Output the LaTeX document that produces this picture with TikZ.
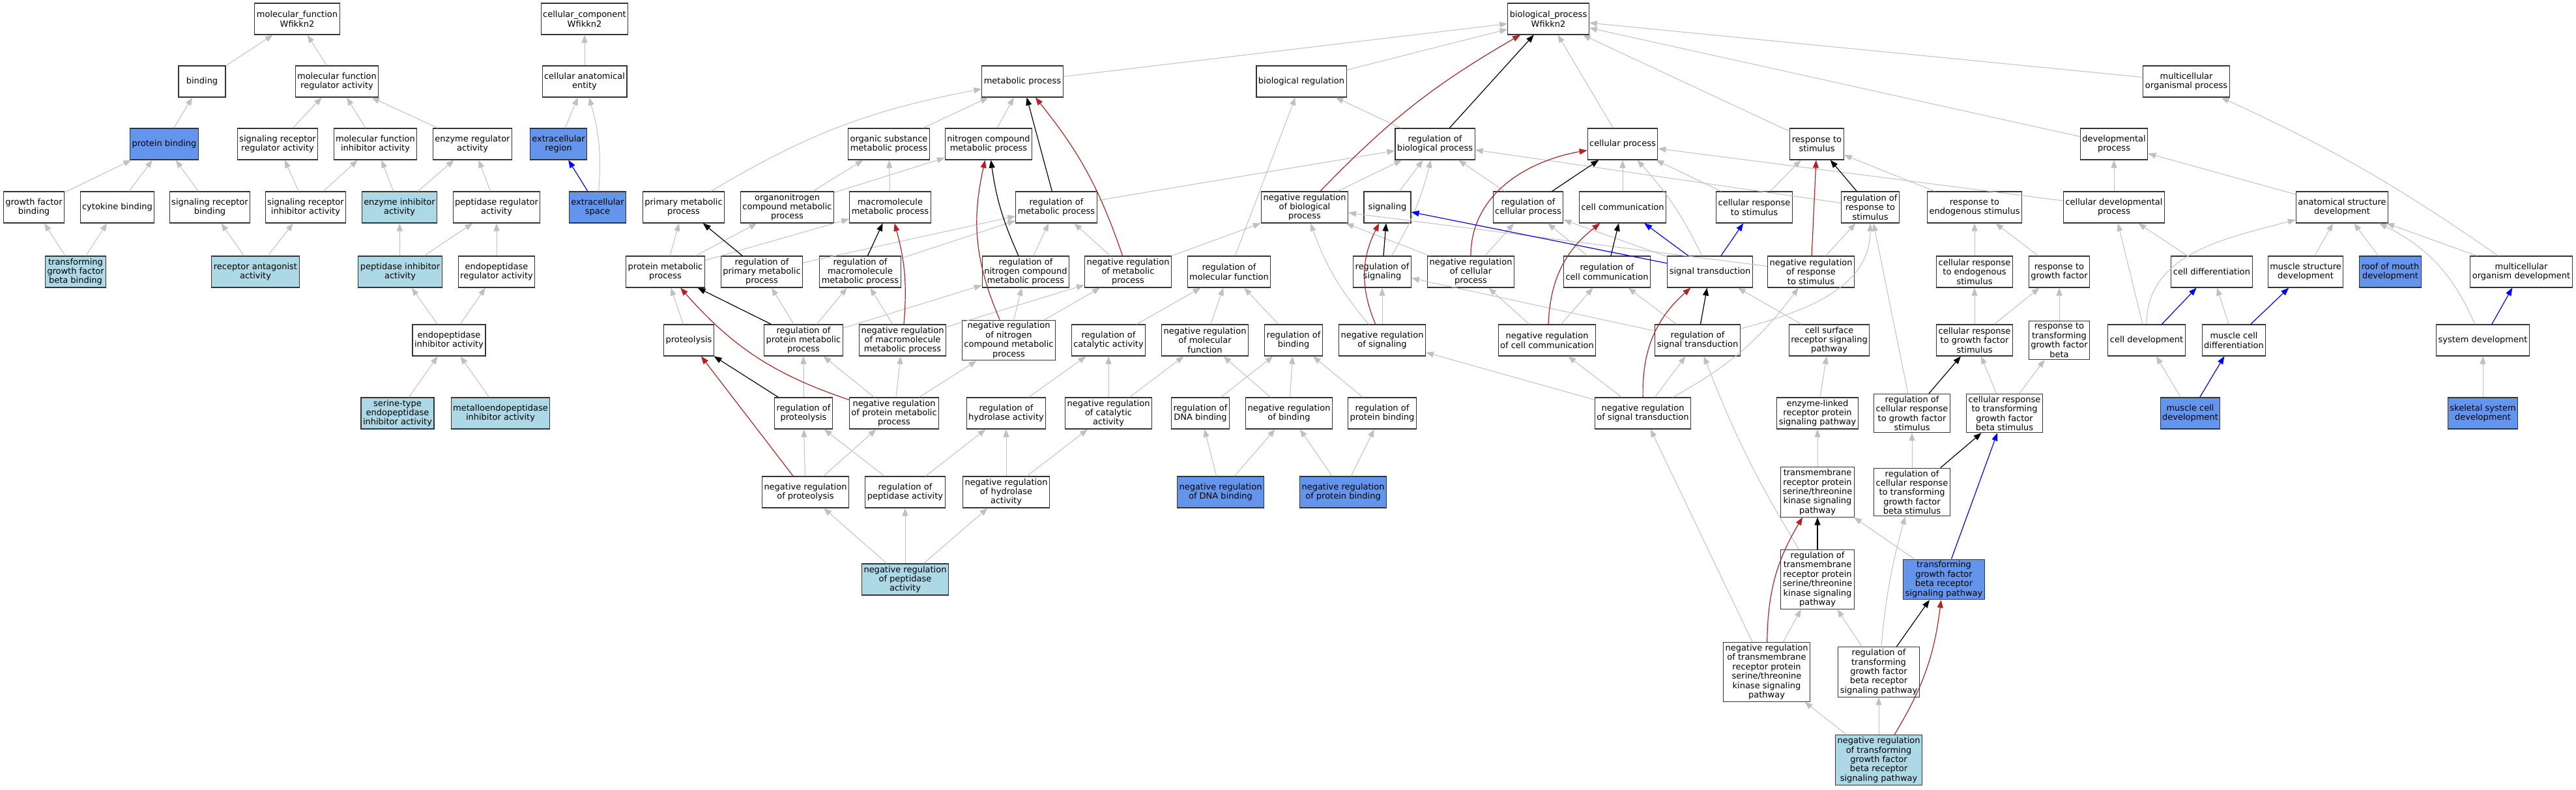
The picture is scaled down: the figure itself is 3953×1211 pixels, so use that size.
\documentclass[tikz,border=0pt]{standalone}
\usepackage{fontspec}
\setmainfont{DejaVu Sans}
\usetikzlibrary{arrows.meta}
\definecolor{edgegray}{RGB}{192,192,192}
\definecolor{hitblue}{RGB}{100,149,237}
\definecolor{seedblue}{RGB}{173,216,230}
\definecolor{negred}{RGB}{178,34,34}
\definecolor{boxline}{RGB}{51,51,51}
\begin{document}
\begin{tikzpicture}[x=1pt, y=1pt,
  every node/.style={rectangle, draw=boxline, line width=1.1pt, fill=white, align=center,
    font=\fontsize{13}{14.4}\selectfont, inner xsep=3pt, inner ysep=3pt,
    minimum width=72pt, minimum height=48pt},
  hit/.style={fill=hitblue},
  seed/.style={fill=seedblue},
  isa/.style={draw=edgegray, line width=1pt, -{Triangle[length=12pt,width=9pt]}},
  regs/.style={draw=black, line width=1.2pt, -{Triangle[length=12pt,width=9pt]}},
  negregs/.style={draw=negred, line width=1.2pt, -{Triangle[length=12pt,width=9pt]}},
  partof/.style={draw=blue, line width=1.2pt, -{Triangle[length=12pt,width=9pt]}}]
	\useasboundingbox (0,0) rectangle (3953,1211);
	
	% molecular function
	\node (mf) at (456,1182) {molecular\_function\\Wfikkn2};
	\node (bind) at (310,1086) {binding};
	\node (mfreg) at (517,1086) {molecular function\\regulator activity};
	\node (protbind) [hit] at (252,990) {protein binding};
	\node (srreg) at (426,990) {signaling receptor\\regulator activity};
	\node (mfinh) at (576,990) {molecular function\\inhibitor activity};
	\node (enzreg) at (725,990) {enzyme regulator\\activity};
	\node (gfbind) at (52,893) {growth factor\\binding};
	\node (cytobind) at (180,893) {cytokine binding};
	\node (srbind) at (322,893) {signaling receptor\\binding};
	\node (srinh) at (469,893) {signaling receptor\\inhibitor activity};
	\node (enzinh) [seed] at (613,893) {enzyme inhibitor\\activity};
	\node (pepreg) at (762,893) {peptidase regulator\\activity};
	\node (tgfbbind) [seed] at (116,794) {transforming\\growth factor\\beta binding};
	\node (recant) [seed] at (392,794) {receptor antagonist\\activity};
	\node (pepinh) [seed] at (614,794) {peptidase inhibitor\\activity};
	\node (endoreg) at (762,794) {endopeptidase\\regulator activity};
	\node (endoinh) at (689,689) {endopeptidase\\inhibitor activity};
	\node (serinh) [seed] at (610,577) {serine-type\\endopeptidase\\inhibitor activity};
	\node (metinh) [seed] at (768,577) {metalloendopeptidase\\inhibitor activity};
	
	% cellular component
	\node (cc) at (897,1182) {cellular\_component\\Wfikkn2};
	\node (cae) at (897,1086) {cellular anatomical\\entity};
	\node (exreg) [hit] at (857,990) {extracellular\\region};
	\node (exspace) [hit] at (917,893) {extracellular\\space};
	
	% biological process
	\node (bp) at (2376,1182) {biological\_process\\Wfikkn2};
	\node (metab) at (1569,1086) {metabolic process};
	\node (bioreg) at (1997,1086) {biological regulation};
	\node (multorg) at (3355,1086) {multicellular\\organismal process};
	\node (orgsub) at (1364,990) {organic substance\\metabolic process};
	\node (nitro) at (1517,990) {nitrogen compound\\metabolic process};
	\node (regbio) at (2202,990) {regulation of\\biological process};
	\node (cellproc) at (2490,990) {cellular process};
	\node (resp) at (2788,990) {response to\\stimulus};
	\node (devproc) at (3244,990) {developmental\\process};
	\node (primet) at (1049,893) {primary metabolic\\process};
	\node (orgnit) at (1208,893) {organonitrogen\\compound metabolic\\process};
	\node (macro) at (1366,893) {macromolecule\\metabolic process};
	\node (regmet) at (1621,893) {regulation of\\metabolic process};
	\node (nregbio) at (2002,893) {negative regulation\\of biological\\process};
	\node (signaling) at (2129,893) {signaling};
	\node (regcell) at (2345,893) {regulation of\\cellular process};
	\node (cellcomm) at (2490,893) {cell communication};
	\node (cellresp) at (2692,893) {cellular response\\to stimulus};
	\node (regresp) at (2870,893) {regulation of\\response to\\stimulus};
	\node (respendo) at (3030,893) {response to\\endogenous stimulus};
	\node (celldevproc) at (3244,893) {cellular developmental\\process};
	\node (anat) at (3594,893) {anatomical structure\\development};
	\node (protmet) at (1021,794) {protein metabolic\\process};
	\node (regprimet) at (1169,794) {regulation of\\primary metabolic\\process};
	\node (regmacro) at (1320,794) {regulation of\\macromolecule\\metabolic process};
	\node (regnitro) at (1574,794) {regulation of\\nitrogen compound\\metabolic process};
	\node (nregmet) at (1731,794) {negative regulation\\of metabolic\\process};
	\node (regmf) at (1886,794) {regulation of\\molecular function};
	\node (regsig) at (2121,794) {regulation of\\signaling};
	\node (nregcell) at (2257,794) {negative regulation\\of cellular\\process};
	\node (regcomm) at (2466,794) {regulation of\\cell communication};
	\node (sigtrans) at (2624,794) {signal transduction};
	\node (nregresp) at (2779,794) {negative regulation\\of response\\to stimulus};
	\node (cellrespendo) at (3030,794) {cellular response\\to endogenous\\stimulus};
	\node (respgf) at (3160,794) {response to\\growth factor};
	\node (celldiff) at (3394,794) {cell differentiation};
	\node (musstruct) at (3538,794) {muscle structure\\development};
	\node (roof) [hit] at (3668,794) {roof of mouth\\development};
	\node (multdev) at (3869,794) {multicellular\\organism development};
	\node (proteolysis) at (1057,689) {proteolysis};
	\node (regprotmet) at (1233,689) {regulation of\\protein metabolic\\process};
	\node (nregmacro) at (1385,689) {negative regulation\\of macromolecule\\metabolic process};
	\node (nregnitro) at (1548,689) {negative regulation\\of nitrogen\\compound metabolic\\process};
	\node (regcat) at (1701,689) {regulation of\\catalytic activity};
	\node (nregmf) at (1849,689) {negative regulation\\of molecular\\function};
	\node (regbind) at (1985,689) {regulation of\\binding};
	\node (nregsig) at (2121,689) {negative regulation\\of signaling};
	\node (nregcomm) at (2374,689) {negative regulation\\of cell communication};
	\node (regsigtrans) at (2605,689) {regulation of\\signal transduction};
	\node (csrsp) at (2807,689) {cell surface\\receptor signaling\\pathway};
	\node (cellrespgf) at (3030,689) {cellular response\\to growth factor\\stimulus};
	\node (resptgfb) at (3160,689) {response to\\transforming\\growth factor\\beta};
	\node (celldev) at (3294,689) {cell development};
	\node (muscdiff) at (3428,689) {muscle cell\\differentiation};
	\node (sysdev) at (3810,689) {system development};
	\node (regprot) at (1233,577) {regulation of\\proteolysis};
	\node (nregprotmet) at (1372,577) {negative regulation\\of protein metabolic\\process};
	\node (reghyd) at (1544,577) {regulation of\\hydrolase activity};
	\node (nregcat) at (1701,577) {negative regulation\\of catalytic\\activity};
	\node (regdna) at (1842,577) {regulation of\\DNA binding};
	\node (nregbind) at (1978,577) {negative regulation\\of binding};
	\node (regprotbind) at (2121,577) {regulation of\\protein binding};
	\node (nregsigtrans) at (2521,577) {negative regulation\\of signal transduction};
	\node (enzlinked) at (2789,577) {enzyme-linked\\receptor protein\\signaling pathway};
	\node (regcellrespgf) at (2934,577) {regulation of\\cellular response\\to growth factor\\stimulus};
	\node (cellresptgfb) at (3076,577) {cellular response\\to transforming\\growth factor\\beta stimulus};
	\node (muscdev) [hit] at (3361,577) {muscle cell\\development};
	\node (skel) [hit] at (3810,577) {skeletal system\\development};
	\node (nregprot) at (1236,456) {negative regulation\\of proteolysis};
	\node (regpep) at (1389,456) {regulation of\\peptidase activity};
	\node (nreghyd) at (1544,456) {negative regulation\\of hydrolase\\activity};
	\node (nregdna) [hit] at (1873,456) {negative regulation\\of DNA binding};
	\node (nregprotbind) [hit] at (2061,456) {negative regulation\\of protein binding};
	\node (tmrsp) at (2789,456) {transmembrane\\receptor protein\\serine/threonine\\kinase signaling\\pathway};
	\node (regcellresptgfb) at (2934,456) {regulation of\\cellular response\\to transforming\\growth factor\\beta stimulus};
	\node (nregpep) [seed] at (1389,322) {negative regulation\\of peptidase\\activity};
	\node (regtmrsp) at (2789,322) {regulation of\\transmembrane\\receptor protein\\serine/threonine\\kinase signaling\\pathway};
	\node (tgfbrsp) [hit] at (2983,322) {transforming\\growth factor\\beta receptor\\signaling pathway};
	\node (nregtmrsp) at (2711,180) {negative regulation\\of transmembrane\\receptor protein\\serine/threonine\\kinase signaling\\pathway};
	\node (regtgfbrsp) at (2883,180) {regulation of\\transforming\\growth factor\\beta receptor\\signaling pathway};
	\node (nregtgfbrsp) [seed] at (2883,45) {negative regulation\\of transforming\\growth factor\\beta receptor\\signaling pathway};
	
	% is_a
	\draw[isa] (bind)--(mf);
	\draw[isa] (mfreg)--(mf);
	\draw[isa] (protbind)--(bind);
	\draw[isa] (srreg)--(mfreg);
	\draw[isa] (mfinh)--(mfreg);
	\draw[isa] (enzreg)--(mfreg);
	\draw[isa] (gfbind)--(protbind);
	\draw[isa] (cytobind)--(protbind);
	\draw[isa] (srbind)--(protbind);
	\draw[isa] (srinh)--(srreg);
	\draw[isa] (srinh)--(mfinh);
	\draw[isa] (enzinh)--(mfinh);
	\draw[isa] (enzinh)--(enzreg);
	\draw[isa] (pepreg)--(enzreg);
	\draw[isa] (tgfbbind)--(gfbind);
	\draw[isa] (tgfbbind)--(cytobind);
	\draw[isa] (recant)--(srbind);
	\draw[isa] (recant)--(srinh);
	\draw[isa] (pepinh)--(enzinh);
	\draw[isa] (pepinh)--(pepreg);
	\draw[isa] (endoreg)--(pepreg);
	\draw[isa] (endoinh)--(pepinh);
	\draw[isa] (endoinh)--(endoreg);
	\draw[isa] (serinh)--(endoinh);
	\draw[isa] (metinh)--(endoinh);
	\draw[isa] (cae)--(cc);
	\draw[isa] (exreg)--(cae);
	\draw[isa] (exspace) to[bend right=10] (cae);
	\draw[isa] (metab)--(bp);
	\draw[isa] (bioreg)--(bp);
	\draw[isa] (cellproc)--(bp);
	\draw[isa] (resp)--(bp);
	\draw[isa] (devproc)--(bp);
	\draw[isa] (multorg)--(bp);
	\draw[isa] (regbio)--(bioreg);
	\draw[isa] (regmf)--(bioreg);
	\draw[isa] (orgsub)--(metab);
	\draw[isa] (nitro)--(metab);
	\draw[isa] (primet) to[bend left=10] (metab);
	\draw[isa] (orgnit)--(orgsub);
	\draw[isa] (orgnit)--(nitro);
	\draw[isa] (macro)--(orgsub);
	\draw[isa] (regmet)--(regbio);
	\draw[isa] (nregbio)--(regbio);
	\draw[isa] (signaling)--(regbio);
	\draw[isa] (regsig) to[bend right=8] (regbio);
	\draw[isa] (regcell)--(regbio);
	\draw[isa] (regresp)--(regbio);
	\draw[isa] (cellcomm)--(cellproc);
	\draw[isa] (sigtrans) to[bend right=8] (cellproc);
	\draw[isa] (cellresp)--(cellproc);
	\draw[isa] (celldevproc)--(cellproc);
	\draw[isa] (cellresp)--(resp);
	\draw[isa] (respendo)--(resp);
	\draw[isa] (celldevproc)--(devproc);
	\draw[isa] (anat)--(devproc);
	\draw[isa] (protmet)--(primet);
	\draw[isa] (protmet)--(orgnit);
	\draw[isa] (protmet)--(macro);
	\draw[isa] (regprimet)--(regmet);
	\draw[isa] (regmacro)--(regmet);
	\draw[isa] (regnitro)--(regmet);
	\draw[isa] (nregmet)--(regmet);
	\draw[isa] (nregmet)--(nregbio);
	\draw[isa] (nregsig) to[bend left=10] (nregbio);
	\draw[isa] (nregcell)--(nregbio);
	\draw[isa] (nregresp)--(nregbio);
	\draw[isa] (nregcell)--(regcell);
	\draw[isa] (regcomm)--(regcell);
	\draw[isa] (sigtrans)--(regcell);
	\draw[isa] (nregcomm)--(nregcell);
	\draw[isa] (nregsig)--(regsig);
	\draw[isa] (regsigtrans)--(regsig);
	\draw[isa] (nregcomm)--(regcomm);
	\draw[isa] (regsigtrans)--(regcomm);
	\draw[isa] (csrsp)--(sigtrans);
	\draw[isa] (nregresp)--(regresp);
	\draw[isa] (regsigtrans) to[out=15,in=-90] (regresp);
	\draw[isa] (regcellrespgf)--(regresp);
	\draw[isa] (cellrespendo)--(respendo);
	\draw[isa] (respgf)--(respendo);
	\draw[isa] (celldev)--(celldevproc);
	\draw[isa] (celldiff)--(celldevproc);
	\draw[isa] (celldev) to[out=90,in=195] (anat);
	\draw[isa] (musstruct)--(anat);
	\draw[isa] (roof)--(anat);
	\draw[isa] (sysdev) to[bend right=20] (anat);
	\draw[isa] (multdev)--(anat);
	\draw[isa] (multdev) to[bend right=5] (multorg);
	\draw[isa] (proteolysis)--(protmet);
	\draw[isa] (regprotmet)--(regprimet);
	\draw[isa] (regprotmet)--(regmacro);
	\draw[isa] (regprotmet)--(regnitro);
	\draw[isa] (nregmacro)--(regmacro);
	\draw[isa] (nregmacro)--(nregmet);
	\draw[isa] (nregnitro)--(regnitro);
	\draw[isa] (nregnitro)--(nregmet);
	\draw[isa] (regcat)--(regmf);
	\draw[isa] (nregmf)--(regmf);
	\draw[isa] (regbind)--(regmf);
	\draw[isa] (nregsigtrans)--(regsigtrans);
	\draw[isa] (nregsigtrans)--(nregsig);
	\draw[isa] (nregsigtrans)--(nregcomm);
	\draw[isa] (nregsigtrans) to[bend right=12] (nregresp);
	\draw[isa] (enzlinked)--(csrsp);
	\draw[isa] (cellrespgf)--(cellrespendo);
	\draw[isa] (cellrespgf)--(respgf);
	\draw[isa] (resptgfb)--(respgf);
	\draw[isa] (muscdiff)--(celldiff);
	\draw[isa] (regprot)--(regprotmet);
	\draw[isa] (nregprotmet)--(regprotmet);
	\draw[isa] (nregprotmet)--(nregmacro);
	\draw[isa] (nregprotmet)--(nregnitro);
	\draw[isa] (reghyd)--(regcat);
	\draw[isa] (nregcat)--(regcat);
	\draw[isa] (nregcat)--(nregmf);
	\draw[isa] (regdna)--(regbind);
	\draw[isa] (nregbind)--(regbind);
	\draw[isa] (nregbind)--(nregmf);
	\draw[isa] (regprotbind)--(regbind);
	\draw[isa] (cellresptgfb)--(cellrespgf);
	\draw[isa] (cellresptgfb)--(resptgfb);
	\draw[isa] (muscdev)--(celldev);
	\draw[isa] (skel)--(sysdev);
	\draw[isa] (nregprot)--(regprot);
	\draw[isa] (nregprot)--(nregprotmet);
	\draw[isa] (regpep)--(regprot);
	\draw[isa] (regpep)--(reghyd);
	\draw[isa] (nreghyd)--(reghyd);
	\draw[isa] (nreghyd)--(nregcat);
	\draw[isa] (nregdna)--(regdna);
	\draw[isa] (nregdna)--(nregbind);
	\draw[isa] (nregprotbind)--(nregbind);
	\draw[isa] (nregprotbind)--(regprotbind);
	\draw[isa] (tmrsp)--(enzlinked);
	\draw[isa] (regcellresptgfb)--(regcellrespgf);
	\draw[isa] (nregpep)--(nregprot);
	\draw[isa] (nregpep)--(regpep);
	\draw[isa] (nregpep)--(nreghyd);
	\draw[isa] (regtmrsp) to[bend left=5] (regsigtrans);
	\draw[isa] (tgfbrsp)--(tmrsp);
	\draw[isa] (nregtmrsp)--(regtmrsp);
	\draw[isa] (nregtmrsp)--(nregsigtrans);
	\draw[isa] (regtgfbrsp)--(regtmrsp);
	\draw[isa] (regtgfbrsp) to[bend left=5] (regcellresptgfb);
	\draw[isa] (nregtgfbrsp)--(nregtmrsp);
	\draw[isa] (nregtgfbrsp)--(regtgfbrsp);
	
	% regulates
	\draw[regs] (regbio)--(bp);
	\draw[regs] (regmet)--(metab);
	\draw[regs] (regprimet)--(primet);
	\draw[regs] (regmacro)--(macro);
	\draw[regs] (regnitro) to[bend left=8] (nitro);
	\draw[regs] (regcell)--(cellproc);
	\draw[regs] (regsig)--(signaling);
	\draw[regs] (regcomm)--(cellcomm);
	\draw[regs] (regsigtrans)--(sigtrans);
	\draw[regs] (regresp)--(resp);
	\draw[regs] (regprotmet)--(protmet);
	\draw[regs] (regprot)--(proteolysis);
	\draw[regs] (regcellrespgf)--(cellrespgf);
	\draw[regs] (regcellresptgfb)--(cellresptgfb);
	\draw[regs] (regtmrsp)--(tmrsp);
	\draw[regs] (regtgfbrsp)--(tgfbrsp);
	
	% negatively regulates
	\draw[negregs] (nregbio) to[bend left=8] (bp);
	\draw[negregs] (nregmet) to[bend right=10] (metab);
	\draw[negregs] (nregmacro) to[bend right=10] (macro);
	\draw[negregs] (nregnitro) to[bend left=18] (nitro);
	\draw[negregs] (nregcell) to[out=90,in=190] (cellproc);
	\draw[negregs] (nregsig) to[bend left=25] (signaling);
	\draw[negregs] (nregcomm) to[bend left=25] (cellcomm);
	\draw[negregs] (nregsigtrans) to[bend left=25] (sigtrans);
	\draw[negregs] (nregresp)--(resp);
	\draw[negregs] (nregprotmet) to[bend left=15] (protmet);
	\draw[negregs] (nregprot)--(proteolysis);
	\draw[negregs] (nregtmrsp) to[bend left=15] (tmrsp);
	\draw[negregs] (nregtgfbrsp) to[bend right=12] (tgfbrsp);
	
	% part_of
	\draw[partof] (exspace)--(exreg);
	\draw[partof] (sigtrans)--(signaling);
	\draw[partof] (sigtrans)--(cellcomm);
	\draw[partof] (sigtrans)--(cellresp);
	\draw[partof] (tgfbrsp)--(cellresptgfb);
	\draw[partof] (celldev)--(celldiff);
	\draw[partof] (muscdiff)--(musstruct);
	\draw[partof] (muscdev)--(muscdiff);
	\draw[partof] (sysdev)--(multdev);
\end{tikzpicture}
\end{document}
